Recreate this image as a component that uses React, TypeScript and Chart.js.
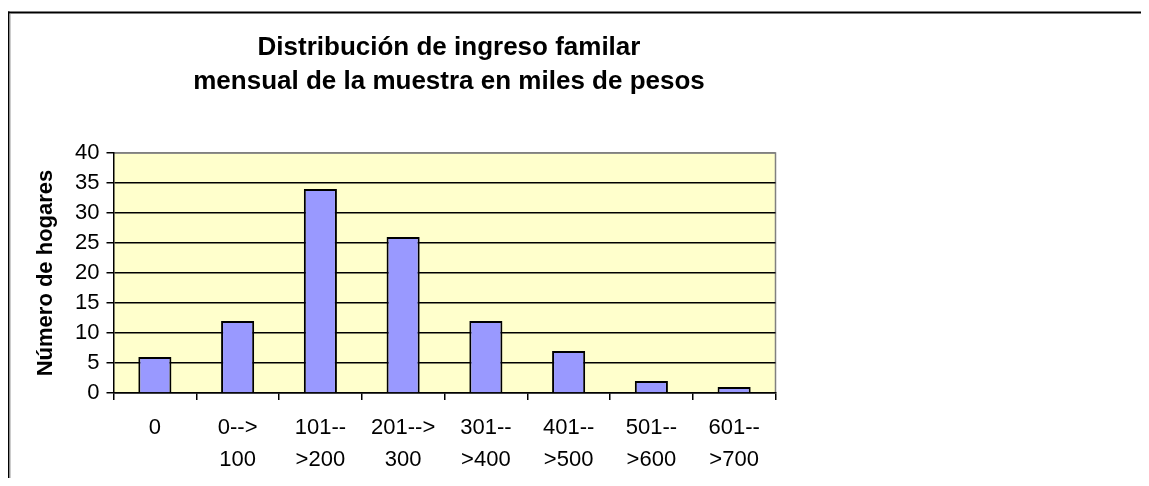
import React, { useEffect, useRef } from 'react';
import { Chart, registerables } from 'chart.js';

Chart.register(...registerables);

const categories: (string | string[])[] = [
  '0',
  ['0-->', '100'],
  ['101--', '>200'],
  ['201-->', '300'],
  ['301--', '>400'],
  ['401--', '>500'],
  ['501--', '>600'],
  ['601--', '>700'],
];
const households = [6, 12, 34, 26, 12, 7, 2, 1];
const titleLines = ['Distribución de ingreso familar', 'mensual de la muestra en miles de pesos'];
const yAxisTitle = 'Número de hogares';
const yMin = 0;
const yMax = 40;
const yStep = 5;

const FONT = '"Liberation Sans", Arial, Helvetica, sans-serif';
const W = 1141;
const H = 470;

const decor = {
  id: 'decor',
  beforeDraw(chart: any) {
    const { ctx, chartArea: a, width, height } = chart;
    ctx.save();
    // plot area background
    ctx.fillStyle = '#FFFFCC';
    ctx.fillRect(a.left, a.top, a.right - a.left, a.bottom - a.top);
    ctx.strokeStyle = '#808080';
    ctx.lineWidth = 1.5;
    ctx.beginPath();
    ctx.moveTo(a.left, a.top);
    ctx.lineTo(a.right, a.top);
    ctx.lineTo(a.right, a.bottom);
    ctx.stroke();
    // outer frame (top and left edges visible)
    ctx.fillStyle = '#000';
    ctx.fillRect(0, 3.5, width, 2);
    ctx.fillRect(0, 3.5, 1.5, height);
    ctx.fillStyle = '#9a9a9a';
    ctx.fillRect(1.5, 5.5, 1, height);
    // title
    ctx.fillStyle = '#000';
    ctx.font = 'bold 26px ' + FONT;
    ctx.textAlign = 'center';
    ctx.textBaseline = 'middle';
    const cx = (a.left + a.right) / 2 + 4.5;
    titleLines.forEach((t, i) => ctx.fillText(t, cx, 40 + i * 34));
    ctx.restore();
  },
};

export default function App() {
  const ref = useRef<HTMLCanvasElement | null>(null);
  useEffect(() => {
    if (!ref.current) return;
    const chart = new Chart(ref.current, {
      type: 'bar',
      data: {
        labels: categories,
        datasets: [
          {
            data: households,
            backgroundColor: '#9999FF',
            borderColor: '#000000',
            borderWidth: 2,
            barPercentage: 0.4,
            categoryPercentage: 1,
          },
        ],
      },
      options: {
        animation: false,
        responsive: false,
        maintainAspectRatio: false,
        devicePixelRatio: 1,
        layout: { padding: { left: 25, right: W - 767.5, top: 145, bottom: 0 } },
        plugins: {
          legend: { display: false },
          title: { display: false },
          tooltip: { enabled: false },
        },
        scales: {
          x: {
            afterFit: (s: any) => {
              s.height = 85;
            },
            grid: {
              offset: true,
              drawOnChartArea: false,
              drawTicks: true,
              tickLength: 7,
              color: '#000',
              lineWidth: 1.5,
            },
            border: { color: '#000', width: 1.5 },
            ticks: {
              color: '#000',
              padding: 12,
              maxRotation: 0,
              autoSkip: false,
              font: { family: FONT, size: 22, lineHeight: 1.45 },
            },
          },
          y: {
            min: yMin,
            max: yMax,
            afterFit: (s: any) => {
              s.width = 80.5;
            },
            grid: {
              color: (c: any) => (c.tick && c.tick.value === yMax ? '#808080' : '#000'),
              tickColor: '#000',
              lineWidth: 1.5,
              tickLength: 7,
            },
            border: { color: '#000', width: 1.5 },
            ticks: {
              stepSize: yStep,
              color: '#000',
              padding: 7,
              font: { family: FONT, size: 22 },
            },
            title: {
              display: true,
              text: yAxisTitle,
              color: '#000',
              padding: 0,
              font: { family: FONT, size: 22, weight: 'bold', lineHeight: 1.2 },
            },
          },
        },
      },
      plugins: [decor],
    });
    return () => chart.destroy();
  }, []);
  return (
    <div style={{ position: 'relative', width: W, height: H }}>
      <canvas ref={ref} width={W} height={H} style={{ display: 'block', width: W, height: H }} />
    </div>
  );
}
